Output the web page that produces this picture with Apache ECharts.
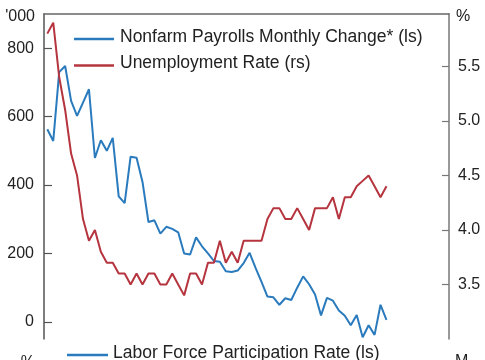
<!DOCTYPE html>
<html><head><meta charset="utf-8">
<script src="https://cdn.jsdelivr.net/npm/echarts@6/dist/echarts.min.js"></script>
<style>html,body{margin:0;padding:0;background:#fff}#c{width:485px;height:360px}</style>
</head><body><div id="c"></div>
<script>
const months = ["May-21","Jun-21","Jul-21","Aug-21","Sep-21","Oct-21","Nov-21","Dec-21",
"Jan-22","Feb-22","Mar-22","Apr-22","May-22","Jun-22","Jul-22","Aug-22","Sep-22","Oct-22","Nov-22","Dec-22",
"Jan-23","Feb-23","Mar-23","Apr-23","May-23","Jun-23","Jul-23","Aug-23","Sep-23","Oct-23","Nov-23","Dec-23",
"Jan-24","Feb-24","Mar-24","Apr-24","May-24","Jun-24","Jul-24","Aug-24","Sep-24","Oct-24","Nov-24","Dec-24",
"Jan-25","Feb-25","Mar-25","Apr-25","May-25","Jun-25","Jul-25","Aug-25","Sep-25","Oct-25","Nov-25","Dec-25",
"Jan-26","Feb-26"];
const payrolls = [563,529,730,748,646,602,641,680,479,531,500,538,367,347,483,480,409,292,297,258,
278,272,262,200,197,247,221,200,178,176,148,146,150,172,202,158,117,74,72,50,
69,64,100,133,110,80,19,70,62,33,18,-10,20,-45,-10,-38,50,6];
const unemployment = [5.8,5.9,5.4,5.1,4.7,4.5,4.1,3.9,4.0,3.8,3.7,3.7,3.6,3.6,3.5,3.6,3.5,3.6,3.6,3.5,
3.5,3.6,3.5,3.4,3.6,3.6,3.5,3.7,3.7,3.9,3.7,3.8,3.7,3.9,3.9,3.9,3.9,4.1,4.2,4.2,
4.1,4.1,4.2,4.1,4.0,4.2,4.2,4.2,4.3,4.1,4.3,4.3,4.4,4.45,4.5,4.4,4.3,4.4];
const leftTicks = [0,200,400,600,800];
const rightTicks = [3.5,4.0,4.5,5.0,5.5];
const seriesNames = ["Nonfarm Payrolls Monthly Change* (ls)","Unemployment Rate (rs)"];
const nextPanelLegend = "Labor Force Participation Rate (ls)";

const BLUE = "#2a7bbd", RED = "#b5343e";
const FONT = "Liberation Sans, Arial, sans-serif";

const chart = echarts.init(document.getElementById('c'), null, {renderer:'canvas'});
chart.setOption({
  animation:false,
  backgroundColor:'#fff',
  grid:{left:44,right:36,top:14,bottom:21,containLabel:false},
  xAxis:{type:'value',min:-0.555,max:67.51,position:'top',
    axisLine:{show:true,onZero:false,lineStyle:{color:'#666',width:1.5}},
    axisTick:{show:false},axisLabel:{show:false},splitLine:{show:false}},
  yAxis:[
    {type:'value',min:-50,max:900,position:'left',
      axisLine:{show:true,onZero:false,lineStyle:{color:'#555',width:1.5}},
      axisTick:{show:true,inside:true,length:8,customValues:leftTicks,lineStyle:{color:'#555',width:1.2}},
      axisLabel:{customValues:leftTicks,margin:10,color:'#222',fontSize:16,fontFamily:FONT,
        formatter:v=>String(v)},
      splitLine:{show:false}},
    {type:'value',min:3.0,max:5.98,position:'right',
      axisLine:{show:true,onZero:false,lineStyle:{color:'#777',width:1.5}},
      axisTick:{show:true,inside:true,length:7,customValues:rightTicks,lineStyle:{color:'#777',width:1.2}},
      axisLabel:{customValues:rightTicks,margin:9,color:'#222',fontSize:16,fontFamily:FONT,
        formatter:v=>v.toFixed(1)},
      splitLine:{show:false}}
  ],
  series:[
    {name:seriesNames[0],type:'line',yAxisIndex:0,symbol:'none',
      lineStyle:{color:BLUE,width:2},data:months.map((m,i)=>[i,payrolls[i]])},
    {name:seriesNames[1],type:'line',yAxisIndex:1,symbol:'none',
      lineStyle:{color:RED,width:2},data:months.map((m,i)=>[i,unemployment[i]])}
  ],
  graphic:[
    {type:'text',left:null,x:35,y:17,style:{text:"'000",fill:'#222',font:'16px '+FONT,align:'right',verticalAlign:'middle'}},
    {type:'text',x:456,y:17,style:{text:"%",fill:'#222',font:'16px '+FONT,align:'left',verticalAlign:'middle'}},
    {type:'line',shape:{x1:74,y1:39,x2:114,y2:39},style:{stroke:BLUE,lineWidth:2.5}},
    {type:'text',x:120,y:37,style:{text:seriesNames[0],fill:'#222',font:'17.5px '+FONT,verticalAlign:'middle'}},
    {type:'line',shape:{x1:74,y1:65.5,x2:114,y2:65.5},style:{stroke:RED,lineWidth:2.5}},
    {type:'text',x:120,y:63.5,style:{text:seriesNames[1],fill:'#222',font:'17.5px '+FONT,verticalAlign:'middle'}},
    {type:'line',shape:{x1:67,y1:355,x2:108,y2:355},style:{stroke:BLUE,lineWidth:2.5}},
    {type:'text',x:113,y:353,style:{text:nextPanelLegend,fill:'#222',font:'17.5px '+FONT,verticalAlign:'middle'}},
    {type:'text',x:35,y:363,style:{text:"%",fill:'#222',font:'16px '+FONT,align:'right',verticalAlign:'middle'}},
    {type:'text',x:455,y:362,style:{text:"M",fill:'#222',font:'16px '+FONT,align:'left',verticalAlign:'middle'}}
  ]
});
</script></body></html>
